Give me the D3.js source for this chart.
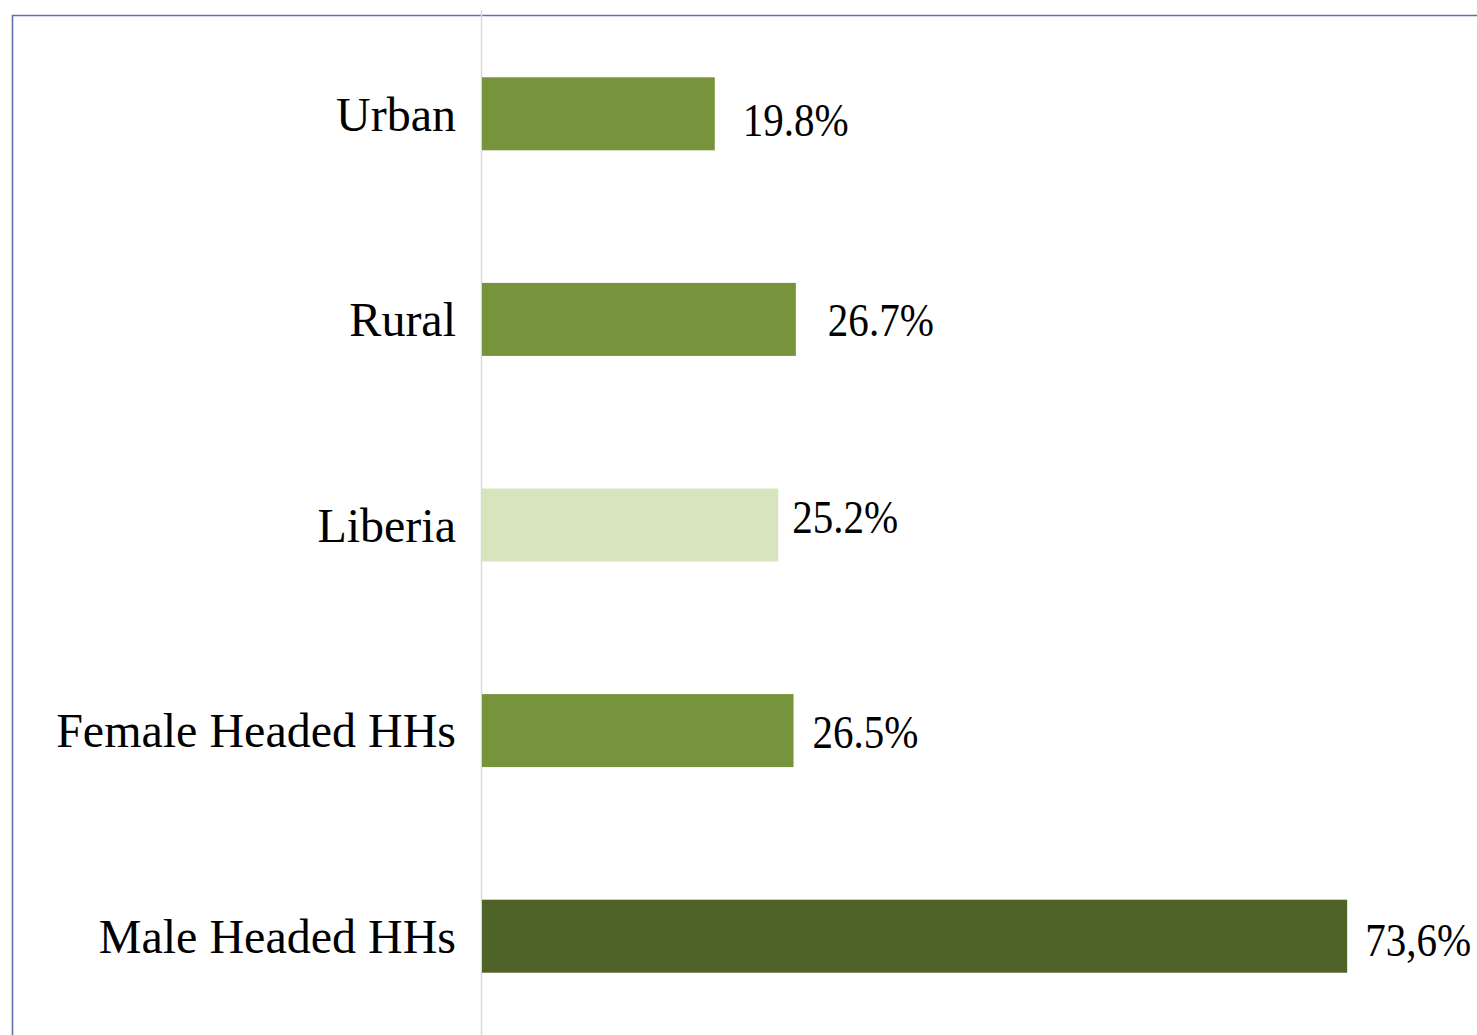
<!DOCTYPE html>
<html>
<head>
<meta charset="utf-8">
<script src="https://cdn.jsdelivr.net/npm/d3@7"></script>
<style>
  html, body { margin: 0; padding: 0; background: #fff; }
  svg { display: block; }
  .cat_label { font-family: "Liberation Serif", "Times New Roman", serif; font-size: 48px; fill: #000; }
  .value_label { font-family: "Liberation Serif", "Times New Roman", serif; font-size: 46px; fill: #000; }
</style>
</head>
<body>
<div id="chart"></div>
<script>
// categories top to bottom
var categories = ["Urban", "Rural", "Liberia", "Female Headed HHs", "Male Headed HHs"]
var values = [19.8, 26.7, 25.2, 26.5, 73.6]
var valueLabels = ["19.8%", "26.7%", "25.2%", "26.5%", "73,6%"]
var barColors = ["#77933c", "#77933c", "#d7e4bd", "#77933c", "#4f6228"]
// hand placed labels in the original: [gap after bar, baseline below bar centre]
var labelNudge = [[28, 22], [32, 17], [14, 8], [19, 17], [18, 20]]

var width = 1477,
    height = 1035

var svg = d3.select("#chart").append("svg")
  .attr("width", width)
  .attr("height", height)

var dims = {
  "axis_x": 482,
  "px_per_pct": 11.755,
  "top": 11,
  "bottom": 1039
}

var x = d3.scaleLinear()
  .domain([0, 100])
  .range([dims.axis_x, dims.axis_x + 100 * dims.px_per_pct])

var y = d3.scaleBand()
  .domain(categories)
  .range([dims.top, dims.bottom])
  .paddingInner(0.645)
  .paddingOuter(0.3225)

// frame: only top and left edges show
svg.append("polyline")
  .attr("points", "12.5," + height + " 12.5,15.5 " + width + ",15.5")
  .attr("fill", "none")
  .attr("stroke", "#5a74aa")
  .attr("stroke-width", 1.6)

// vertical axis line
svg.append("line")
  .attr("x1", dims.axis_x - 0.5)
  .attr("x2", dims.axis_x - 0.5)
  .attr("y1", 10)
  .attr("y2", height)
  .attr("stroke", "#d9d9d9")
  .attr("stroke-width", 1.5)

var bars = svg.append("g").attr("class", "bars")
bars.selectAll("rect")
  .data(categories)
  .join("rect")
    .attr("x", x(0))
    .attr("y", function (d) { return y(d) })
    .attr("width", function (d, i) { return x(values[i]) - x(0) })
    .attr("height", y.bandwidth())
    .attr("fill", function (d, i) { return barColors[i] })

// category labels through the axis
var yAxis = d3.axisLeft(y)
  .tickSize(0)
  .tickPadding(26)

var axisG = svg.append("g")
  .attr("transform", "translate(" + dims.axis_x + ",0)")
  .call(yAxis)
axisG.select(".domain").remove()
axisG.selectAll("text")
  .attr("class", "cat_label")
  .attr("font-family", null)
  .attr("font-size", null)
  .attr("dy", "0.35em")

// value labels
svg.append("g").attr("class", "values")
  .selectAll("text")
  .data(categories)
  .join("text")
    .attr("class", "value_label")
    .attr("x", function (d, i) { return x(values[i]) + labelNudge[i][0] })
    .attr("y", function (d, i) { return y(d) + y.bandwidth() / 2 + labelNudge[i][1] })
    .attr("textLength", 106)
    .attr("lengthAdjust", "spacingAndGlyphs")
    .text(function (d, i) { return valueLabels[i] })
</script>
</body>
</html>
